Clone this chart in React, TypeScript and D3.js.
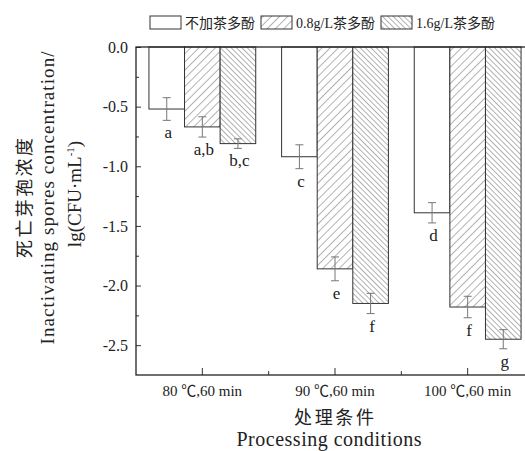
import React, { useEffect, useRef } from 'react';
import * as d3 from 'd3';

const categories = ['80 ℃,60 min', '90 ℃,60 min', '100 ℃,60 min'];
const seriesNames = ['不加茶多酚', '0.8g/L茶多酚', '1.6g/L茶多酚'];
const controlValues = [-0.52, -0.92, -1.39];
const tea08Values = [-0.67, -1.86, -2.18];
const tea16Values = [-0.81, -2.15, -2.45];
const controlErr = [0.095, 0.1, 0.085];
const tea08Err = [0.085, 0.1, 0.09];
const tea16Err = [0.04, 0.085, 0.08];
const controlLetters = ['a', 'c', 'd'];
const tea08Letters = ['a,b', 'e', 'f'];
const tea16Letters = ['b,c', 'f', 'g'];
const yTicks = [0, -0.5, -1.0, -1.5, -2.0, -2.5];

const W = 525;
const H = 451;
const margin = { top: 47, right: -9, bottom: 76, left: 136 };
const FONT = '"Liberation Serif", "Times New Roman", serif';
const CJK = '"Liberation Serif", "Noto Sans CJK SC", serif';

const draw = (node: SVGSVGElement) => {
    const svg = d3.select(node);
    svg.selectAll('*').remove();

    const x0 = margin.left;
    const x1 = W - margin.right;
    const y0 = margin.top;
    const y1 = H - margin.bottom;

    const xscale = d3.scaleBand<string>()
        .domain(categories)
        .range([x0, x1])
        .paddingInner(0.195)
        .paddingOuter(0.0975);
    const xinner = d3.scaleBand<string>()
        .domain(seriesNames)
        .range([0, xscale.bandwidth()]);
    const yscale = d3.scaleLinear()
        .domain([-2.75, 0])
        .range([y1, y0]);

    // hatch patterns
    const defs = svg.append('defs');
    const hatch = (id: string, gap: number, angle: number) => {
        const p = defs.append('pattern')
            .attr('id', id)
            .attr('patternUnits', 'userSpaceOnUse')
            .attr('width', gap)
            .attr('height', gap)
            .attr('patternTransform', `rotate(${angle})`);
        p.append('rect').attr('width', gap).attr('height', gap).attr('fill', '#fff');
        p.append('line')
            .attr('x1', 0).attr('y1', 0).attr('x2', 0).attr('y2', gap)
            .attr('stroke', '#555').attr('stroke-width', 0.9);
    };
    hatch('h08', 5.8, 45);
    hatch('h16', 3.8, -45);
    const fills = ['#fff', 'url(#h08)', 'url(#h16)'];

    const rows = [
        { name: seriesNames[0], values: controlValues, err: controlErr, letters: controlLetters },
        { name: seriesNames[1], values: tea08Values, err: tea08Err, letters: tea08Letters },
        { name: seriesNames[2], values: tea16Values, err: tea16Err, letters: tea16Letters },
    ];

    const bars = svg.append('g').attr('class', 'bars');
    rows.forEach((row, si) => {
        categories.forEach((cat, ci) => {
            const bx = (xscale(cat) as number) + (xinner(row.name) as number);
            const bw = xinner.bandwidth();
            const v = row.values[ci];
            bars.append('rect')
                .attr('x', bx)
                .attr('y', yscale(0))
                .attr('width', bw)
                .attr('height', yscale(v) - yscale(0))
                .attr('fill', fills[si])
                .attr('stroke', '#333')
                .attr('stroke-width', 1);

            const cx = bx + bw / 2;
            const e = row.err[ci];
            const g = bars.append('g').attr('stroke', '#777').attr('stroke-width', 1);
            g.append('line').attr('x1', cx).attr('x2', cx).attr('y1', yscale(v + e)).attr('y2', yscale(v - e));
            g.append('line').attr('x1', cx - 4).attr('x2', cx + 4).attr('y1', yscale(v + e)).attr('y2', yscale(v + e));
            g.append('line').attr('x1', cx - 4).attr('x2', cx + 4).attr('y1', yscale(v - e)).attr('y2', yscale(v - e));

            bars.append('text')
                .text(row.letters[ci])
                .attr('x', cx + 1.5)
                .attr('y', yscale(v - e) + 18)
                .attr('text-anchor', 'middle')
                .attr('font-family', FONT)
                .attr('font-size', 17)
                .attr('fill', '#222');
        });
    });

    // axes (ticks point inward)
    const yAxis = d3.axisLeft(yscale)
        .tickValues(yTicks)
        .tickFormat((d) => (d as number).toFixed(1))
        .tickSizeInner(-5)
        .tickSizeOuter(0)
        .tickPadding(8);
    const yg = svg.append('g')
        .attr('transform', `translate(${x0},0)`)
        .call(yAxis);
    yg.select('.domain').remove();
    yg.selectAll('text').attr('font-family', FONT).attr('font-size', 16).attr('fill', '#222');
    yg.selectAll('line').attr('stroke', '#333');

    const yMinor = d3.axisLeft(yscale)
        .tickValues([-0.25, -0.75, -1.25, -1.75, -2.25])
        .tickFormat(() => '')
        .tickSizeInner(-3)
        .tickSizeOuter(0);
    const ymg = svg.append('g').attr('transform', `translate(${x0},0)`).call(yMinor);
    ymg.select('.domain').remove();
    ymg.selectAll('line').attr('stroke', '#333');

    const xAxis = d3.axisBottom(xscale)
        .tickSizeInner(-7)
        .tickSizeOuter(0)
        .tickPadding(10);
    const xg = svg.append('g')
        .attr('transform', `translate(0,${y1})`)
        .call(xAxis);
    xg.select('.domain').remove();
    xg.selectAll('text').attr('font-family', CJK).attr('font-size', 15).attr('fill', '#222');
    xg.selectAll('line').attr('stroke', '#333');

    const step = xscale.step();
    svg.append('g')
        .selectAll('line')
        .data(d3.range(1, categories.length))
        .enter()
        .append('line')
        .attr('x1', (d) => x0 + d * step)
        .attr('x2', (d) => x0 + d * step)
        .attr('y1', y1)
        .attr('y2', y1 - 4)
        .attr('stroke', '#333');

    // frame
    svg.append('rect')
        .attr('x', x0)
        .attr('y', y0)
        .attr('width', x1 - x0)
        .attr('height', y1 - y0)
        .attr('fill', 'none')
        .attr('stroke', '#222')
        .attr('stroke-width', 1.3);

    // axis titles
    const ymid = 198;
    const ytitles = [
        { text: '死亡芽孢浓度', x: 31, len: 120, font: CJK, size: 18 },
        { text: 'Inactivating spores concentration/', x: 54, len: 293, font: FONT, size: 19 },
    ];
    ytitles.forEach((t) => {
        svg.append('text')
            .text(t.text)
            .attr('transform', `translate(${t.x},${ymid}) rotate(-90)`)
            .attr('text-anchor', 'middle')
            .attr('textLength', t.len)
            .attr('lengthAdjust', 'spacing')
            .attr('font-family', t.font)
            .attr('font-size', t.size)
            .attr('fill', '#222');
    });
    const lg = svg.append('text')
        .attr('transform', `translate(81,${ymid - 4}) rotate(-90)`)
        .attr('text-anchor', 'middle')
        .attr('font-family', FONT)
        .attr('font-size', 19)
        .attr('fill', '#222');
    lg.append('tspan').text('lg(CFU·mL');
    lg.append('tspan').text('-1').attr('font-size', 11).attr('dy', -7);
    lg.append('tspan').text(')').attr('dy', 7);

    svg.append('text')
        .text('处理条件')
        .attr('x', 334)
        .attr('y', 424)
        .attr('text-anchor', 'middle')
        .attr('textLength', 80)
        .attr('lengthAdjust', 'spacing')
        .attr('font-family', CJK)
        .attr('font-size', 18)
        .attr('fill', '#222');
    svg.append('text')
        .text('Processing conditions')
        .attr('x', 329)
        .attr('y', 446)
        .attr('text-anchor', 'middle')
        .attr('textLength', 185)
        .attr('lengthAdjust', 'spacing')
        .attr('font-family', FONT)
        .attr('font-size', 20)
        .attr('fill', '#222');

    // legend
    const legendX = [150, 261, 381];
    const leg = svg.append('g').attr('class', 'legend');
    seriesNames.forEach((name, i) => {
        leg.append('rect')
            .attr('x', legendX[i])
            .attr('y', 16)
            .attr('width', 31)
            .attr('height', 13)
            .attr('fill', fills[i])
            .attr('stroke', '#333')
            .attr('stroke-width', 1);
        leg.append('text')
            .text(name)
            .attr('x', legendX[i] + 35)
            .attr('y', 28)
            .attr('font-family', CJK)
            .attr('font-size', 14)
            .attr('fill', '#222');
    });
};

export default function App() {
    const ref = useRef<SVGSVGElement>(null);
    useEffect(() => {
        if (ref.current) draw(ref.current);
    }, []);
    return (
        <svg
            ref={ref}
            width={W}
            height={H}
            style={{ position: 'absolute', left: 0, top: 0, background: '#fff' }}
        />
    );
}
